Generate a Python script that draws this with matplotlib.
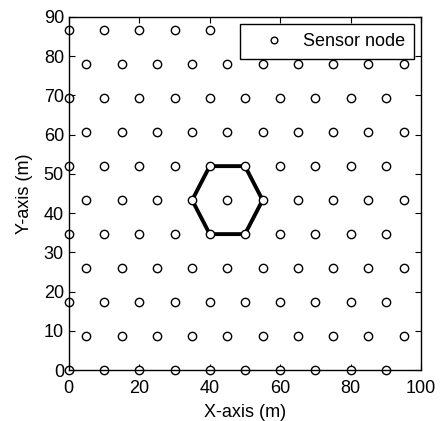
import matplotlib
matplotlib.use("Agg")
import matplotlib.pyplot as plt

plt.rcParams['font.family'] = ['Liberation Sans', 'DejaVu Sans']

# hexagonal deployment: row heights and x positions of the nodes
row_y = [0, 8.66, 17.32, 25.98, 34.64, 43.30, 51.96, 60.62, 69.28, 77.94, 86.60]
x_even = [0, 10, 20, 30, 40, 50, 60, 70, 80, 90]
x_odd = [5, 15, 25, 35, 45, 55, 65, 75, 85, 95]

# cell around the node at (45, 43.3)
hex_x = [40, 50, 55, 50, 40, 35, 40]
hex_y = [51.96, 51.96, 43.30, 34.64, 34.64, 43.30, 51.96]

xs, ys = [], []
for i, y in enumerate(row_y):
    row = x_even if i % 2 == 0 else x_odd
    xs += row
    ys += [y] * len(row)

fig = plt.figure(figsize=(4.41, 4.21), dpi=100)
ax = fig.add_axes([0.156, 0.121, 0.799, 0.839])

ax.plot(hex_x, hex_y, color='black', lw=2.8, zorder=2)
ax.plot(xs, ys, 'o', ms=6, mfc='white', mec='black', mew=1.0,
        linestyle='none', label='Sensor node', zorder=3, clip_on=False)

ax.set_xlim(0, 100)
ax.set_ylim(0, 90)
ax.set_xticks([0, 20, 40, 60, 80, 100])
ax.set_yticks(range(0, 91, 10))
ax.tick_params(direction='in', top=True, right=True, labelsize=13, length=4)
ax.tick_params(axis='x', pad=7)
ax.tick_params(axis='y', pad=3.5)
ax.set_xlabel('X-axis (m)', fontsize=13, labelpad=5)
ax.set_ylabel('Y-axis (m)', fontsize=13, labelpad=8)
for s in ax.spines.values():
    s.set_linewidth(1.0)
    s.set_zorder(4)

leg = ax.legend(loc='upper right', fontsize=13, fancybox=False, framealpha=1,
                edgecolor='black', borderaxespad=0.4, handlelength=2.8,
                handletextpad=0.2, borderpad=0.5, markerscale=0.8)
leg.get_frame().set_linewidth(1.0)
leg.set_zorder(5)

fig.savefig('out.png', dpi=100)
